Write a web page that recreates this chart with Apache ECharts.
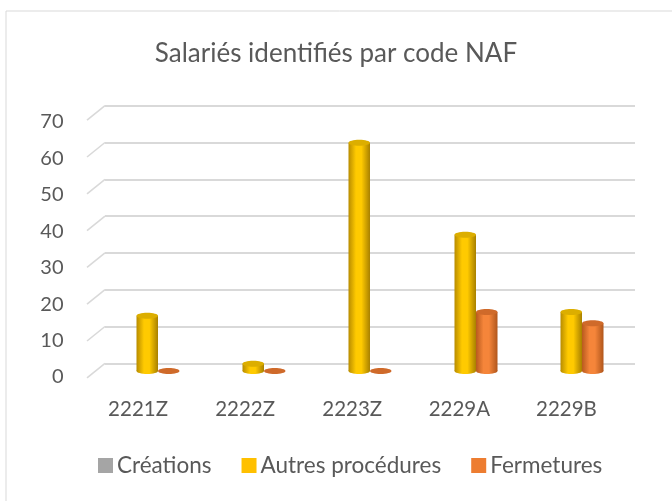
<!DOCTYPE html>
<html>
<head>
<meta charset="utf-8">
<script src="https://cdn.jsdelivr.net/npm/echarts@6/dist/echarts.min.js"></script>
<style>
  html, body { margin: 0; padding: 0; background: #fff; }
  #J_chart { width: 672px; height: 501px; }
</style>
</head>
<body>
<div id="J_chart"></div>
<script>
var categories = ['2221Z', '2222Z', '2223Z', '2229A', '2229B'];
var creations = [];
var autres = [15, 2, 62, 37, 16];
var fermetures = [0, 0, 0, 16, 13];
var yTicks = [0, 10, 20, 30, 40, 50, 60, 70];

var FONT = 'Lato';
var TXT = '#595959';

function toItems(arr) {
    return arr.map(function (v, i) { return [i, v]; });
}

// cylinder drawn in the middle depth of the 3D box
function cylinder(side, c) {
    return function (params, api) {
        var cat = api.value(0), v = api.value(1);
        var top = api.coord([cat, v]);
        var base = api.coord([cat, 0]);
        var w = 21.5, dy = 7.7, ry = 3;
        var x0 = side < 0 ? top[0] - w : top[0];
        var yTop = top[1] + dy, yBase = base[1] + dy;
        var cx = x0 + w / 2;
        var body = new echarts.graphic.LinearGradient(0, 0, 1, 0, [
            { offset: 0, color: c[0] },
            { offset: 0.35, color: c[1] },
            { offset: 0.6, color: c[1] },
            { offset: 1, color: c[2] }
        ]);
        var kids = [];
        if (yBase - yTop > 0.5) {
            kids.push({
                type: 'ellipse',
                shape: { cx: cx, cy: yBase, rx: w / 2, ry: ry },
                style: { fill: body }
            });
            kids.push({
                type: 'rect',
                shape: { x: x0, y: yTop, width: w, height: yBase - yTop },
                style: { fill: body }
            });
        }
        kids.push({
            type: 'ellipse',
            shape: { cx: cx, cy: yTop, rx: w / 2, ry: ry },
            style: { fill: c[3] }
        });
        return { type: 'group', children: kids };
    };
}

// slanted floor/side stubs of the gridlines
function stubs(params, api) {
    var y = api.coord([0, api.value(1)])[1];
    var x = params.coordSys.x;
    return {
        type: 'line',
        shape: { x1: x, y1: y, x2: x - 18, y2: y + 14.5 },
        style: { stroke: '#d9d9d9', lineWidth: 1.6 }
    };
}

var chart = echarts.init(document.getElementById('J_chart'));
chart.setOption({
    animation: false,
    title: {
        text: 'Salariés identifiés par code NAF',
        left: 'center',
        top: 36,
        textStyle: { fontFamily: FONT, fontSize: 26, fontWeight: 'normal', color: TXT }
    },
    legend: {
        data: ['Créations', 'Autres procédures', 'Fermetures'],
        top: 454,
        left: 98,
        padding: 0,
        icon: 'rect',
        itemWidth: 15,
        itemHeight: 15,
        itemGap: 30,
        textStyle: { fontFamily: FONT, fontSize: 22.5, color: TXT, padding: [0, 0, 0, -1] }
    },
    graphic: [{
        type: 'rect',
        shape: { x: 6, y: 11, width: 700, height: 520 },
        style: { fill: 'none', stroke: '#d9d9d9', lineWidth: 1 },
        silent: true
    }],
    grid: [
        { left: 105, right: 37, top: 105.7, bottom: 137.7 },
        { left: 84.5, right: 52, top: 122, bottom: 124 }
    ],
    xAxis: [
        {
            gridIndex: 0, type: 'category', data: categories,
            axisLine: { show: false }, axisTick: { show: false }, axisLabel: { show: false }
        },
        {
            gridIndex: 1, type: 'category', data: categories,
            axisLine: { show: false }, axisTick: { show: false },
            axisLabel: { margin: 22, fontFamily: FONT, fontSize: 20.5, color: TXT }
        }
    ],
    yAxis: [
        {
            gridIndex: 0, type: 'value', min: 0, max: 70, interval: 10,
            axisLine: { show: false }, axisTick: { show: false }, axisLabel: { show: false },
            splitLine: { lineStyle: { color: '#d9d9d9', width: 2 } }
        },
        {
            gridIndex: 1, type: 'value', min: 0, max: 70, interval: 10,
            axisLine: { show: false }, axisTick: { show: false }, splitLine: { show: false },
            axisLabel: { margin: 21, fontFamily: FONT, fontSize: 20, color: TXT }
        }
    ],
    series: [
        {
            type: 'custom', name: 'stubs', xAxisIndex: 0, yAxisIndex: 0, silent: true,
            renderItem: stubs, data: yTicks.map(function (v) { return [0, v]; }), z: 1
        },
        {
            type: 'custom', name: 'Créations', xAxisIndex: 0, yAxisIndex: 0,
            itemStyle: { color: '#a5a5a5' },
            renderItem: cylinder(-1, ['#7f7f7f', '#b0b0b0', '#8a8a8a', '#999999']),
            data: toItems(creations), z: 3
        },
        {
            type: 'custom', name: 'Autres procédures', xAxisIndex: 0, yAxisIndex: 0,
            itemStyle: { color: '#ffc000' },
            renderItem: cylinder(-1, ['#b88c00', '#ffca00', '#a88000', '#dcae00']),
            data: toItems(autres), z: 3
        },
        {
            type: 'custom', name: 'Fermetures', xAxisIndex: 0, yAxisIndex: 0,
            itemStyle: { color: '#ed7d31' },
            renderItem: cylinder(1, ['#b85a1e', '#f5853a', '#b0561c', '#cf6a2a']),
            data: toItems(fermetures), z: 3
        }
    ]
});
</script>
</body>
</html>
